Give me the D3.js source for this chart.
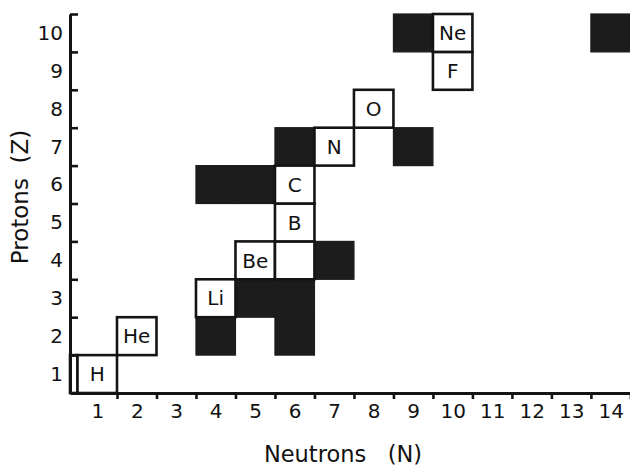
<!DOCTYPE html>
<html>
<head>
<meta charset="utf-8">
<script src="https://cdn.jsdelivr.net/npm/d3@7"></script>
<style>
  html, body { margin: 0; padding: 0; background: #fff; }
  svg { display: block; }
  text { font-family: "DejaVu Sans", sans-serif; fill: #111; }
</style>
</head>
<body>
<svg id="chart" width="630" height="468"></svg>
<script>
// ---- data ----
const xTickLabels = ["1","2","3","4","5","6","7","8","9","10","11","12","13","14"];
const yTickLabels = ["1","2","3","4","5","6","7","8","9","10"];
// stable nuclides (white, outlined) : neutron number, proton number, element label
const stableN     = [0, 1, 2, 4, 5, 6, 6, 6, 7, 8, 10, 10];
const stableZ     = [1, 1, 2, 3, 4, 4, 5, 6, 7, 8, 9, 10];
const stableLabel = ["", "H", "He", "Li", "Be", "", "B", "C", "N", "O", "F", "Ne"];
// black cells
const blackN = [4, 6, 5, 6, 7, 4, 5, 6, 9, 9, 14];
const blackZ = [2, 2, 3, 3, 4, 6, 6, 7, 7, 10, 10];
const xTitle = "Neutrons   (N)";
const yTitle = "Protons  (Z)";

// ---- layout ----
const svg = d3.select("#chart");
const x = d3.scaleLinear().domain([0.31, 14.49]).range([70, 630]);
const y = d3.scaleLinear().domain([0.5, 10.5]).range([393, 14]);
const ink = "#141414";

const cell = (n, z) => {
  const x0 = Math.max(x(n - 0.5), x.range()[0]);
  const x1 = x(n + 0.5);
  return { x: x0, y: y(z + 0.5), w: x1 - x0, h: y(z - 0.5) - y(z + 0.5) };
};

// black cells
const blacks = blackN.map((n, i) => ({ n, z: blackZ[i] }));
svg.append("g").selectAll("rect").data(blacks).join("rect")
  .attr("x", d => cell(d.n, d.z).x)
  .attr("y", d => cell(d.n, d.z).y)
  .attr("width", d => cell(d.n, d.z).w)
  .attr("height", d => cell(d.n, d.z).h)
  .attr("fill", "#1c1c1c")
  .attr("stroke", "#1c1c1c")
  .attr("stroke-width", 1.2);

// stable cells
const stables = stableN.map((n, i) => ({ n, z: stableZ[i], label: stableLabel[i] }));
const sg = svg.append("g");
sg.selectAll("rect").data(stables).join("rect")
  .attr("x", d => cell(d.n, d.z).x)
  .attr("y", d => cell(d.n, d.z).y)
  .attr("width", d => cell(d.n, d.z).w)
  .attr("height", d => cell(d.n, d.z).h)
  .attr("fill", "#fff")
  .attr("stroke", ink)
  .attr("stroke-width", 2.6);
sg.selectAll("text").data(stables.filter(d => d.label)).join("text")
  .attr("x", d => x(d.n))
  .attr("y", d => y(d.z))
  .attr("dy", "0.36em")
  .attr("text-anchor", "middle")
  .attr("font-size", 20)
  .text(d => d.label);

// ---- axes ----
const boundX = d3.range(1.5, 15, 1);
const boundY = d3.range(1.5, 11, 1);

svg.append("g").attr("transform", "translate(0,393)")
  .call(d3.axisBottom(x).tickValues(boundX).tickSize(6).tickSizeOuter(0).tickFormat(""));
const xAxisLabels = svg.append("g").attr("transform", "translate(0,393)")
  .call(d3.axisBottom(x).tickValues(d3.range(1, 15)).tickSize(0).tickPadding(11)
    .tickFormat((d, i) => xTickLabels[i]));
xAxisLabels.select(".domain").remove();

svg.append("g").attr("transform", "translate(70,0)")
  .call(d3.axisRight(y).tickValues(boundY).tickSize(8).tickSizeOuter(0).tickFormat(""));
const yAxisLabels = svg.append("g").attr("transform", "translate(70,0)")
  .call(d3.axisLeft(y).tickValues(d3.range(1, 11)).tickSize(0).tickPadding(7)
    .tickFormat((d, i) => yTickLabels[i]));
yAxisLabels.select(".domain").remove();

svg.selectAll(".domain").attr("stroke", ink).attr("stroke-width", 3);
svg.selectAll(".tick line").attr("stroke", ink).attr("stroke-width", 2.6);
svg.selectAll(".tick text").attr("font-size", 20).attr("fill", "#111")
  .attr("font-family", "DejaVu Sans, sans-serif");

// ---- titles ----
svg.append("text")
  .attr("x", 343).attr("y", 462)
  .attr("text-anchor", "middle")
  .attr("font-size", 22.5)
  .style("white-space", "pre")
  .text(xTitle);
svg.append("text")
  .attr("transform", "translate(28,197) rotate(-90)")
  .attr("text-anchor", "middle")
  .attr("font-size", 23)
  .style("white-space", "pre")
  .text(yTitle);
</script>
</body>
</html>
